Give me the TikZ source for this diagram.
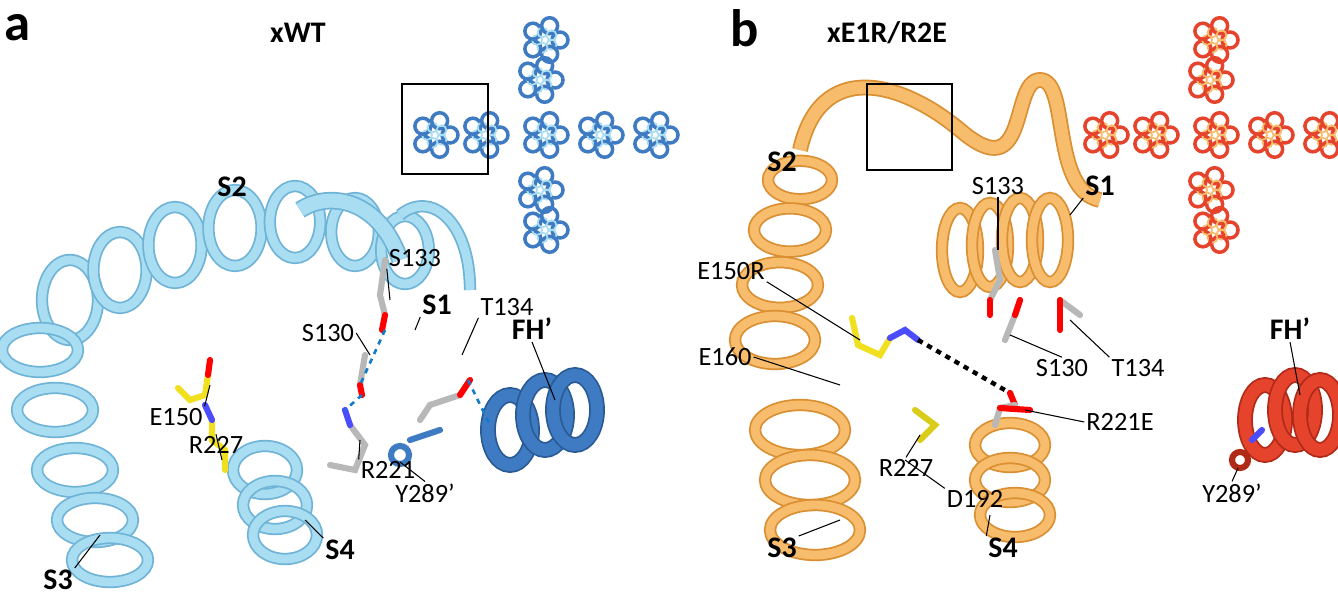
\documentclass[tikz,border=0pt]{standalone}
\usepackage{fontspec}
\setmainfont{Carlito}
\usetikzlibrary{calc}
\begin{document}
\begin{tikzpicture}[x=0.02cm,y=-0.02cm]
\definecolor{lb}{HTML}{A9DDF2}\definecolor{lbd}{HTML}{6FB3D6}
\definecolor{db}{HTML}{3F7BC2}\definecolor{dbd}{HTML}{2A5A95}
\definecolor{lo}{HTML}{F7BC6C}\definecolor{lod}{HTML}{D98F32}
\definecolor{rd}{HTML}{E5432C}\definecolor{rdd}{HTML}{B02A18}
\definecolor{st}{HTML}{B8B8B8}\definecolor{ye}{HTML}{F0E020}
\tikzset{lab/.style={font=\fontsize{15}{17}\selectfont,inner sep=1pt},
 blab/.style={lab,font=\fontsize{17}{19}\selectfont\bfseries},
 lead/.style={draw=black,line width=0.6pt},
 coilA/.style={draw=lbd,line width=7pt},coilA2/.style={draw=lb,line width=5pt},
 stick/.style={line width=3.5pt,line cap=round}}
\useasboundingbox (0,0) rectangle (1338,601);
\fill[white] (0,0) rectangle (1338,601);
% ---------- panel a -------------
\foreach \x/\y/\r in {70/300/40,120/270/38,175/245/38,235/228/38,295/222/36,355/232/34,405/250/34}
 {\draw[coilA] (\x,\y) ellipse [x radius=\r*0.7,y radius=\r];\draw[coilA2] (\x,\y) ellipse [x radius=\r*0.7,y radius=\r];}
\foreach \x/\y in {40/350,55/410,75/470,95/520,110/560}
 {\draw[coilA] (\x,\y) ellipse [x radius=38,y radius=22];\draw[coilA2] (\x,\y) ellipse [x radius=38,y radius=22];}
\foreach \x/\y in {265/470,275/505,285/535}
 {\draw[coilA] (\x,\y) ellipse [x radius=32,y radius=24];\draw[coilA2] (\x,\y) ellipse [x radius=32,y radius=24];}
\draw[coilA,line width=10pt] (300,210) .. controls (330,190) and (380,200) .. (400,260);
\draw[coilA2,line width=8pt] (300,210) .. controls (330,190) and (380,200) .. (400,260);
\draw[draw=lbd,line width=7pt] (400,215) .. controls (430,190) and (470,220) .. (470,290);
\draw[draw=lb,line width=5pt] (400,215) .. controls (430,190) and (470,220) .. (470,290);
\foreach \x/\y in {510/430,545/415,575/410}
 {\draw[draw=dbd,line width=9pt] (\x,\y) ellipse [x radius=22,y radius=35];\draw[draw=db,line width=7pt] (\x,\y) ellipse [x radius=22,y radius=35];}
% sticks a
\draw[stick,ye] (178,388)--(190,400)--(205,395)--(208,375);
\draw[stick,red] (208,375)--(210,360);
\draw[stick,ye] (225,470)--(225,450)--(212,440)--(212,420);
\draw[stick,blue!70] (212,420)--(205,405);
\draw[stick,st] (385,315)--(380,295)--(385,260);
\draw[stick,red] (385,315)--(382,330);
\draw[stick,st] (360,385)--(365,355);\draw[stick,red] (360,385)--(362,395);
\draw[stick,st] (330,465)--(355,470)--(365,445)--(350,425);\draw[stick,blue!70] (350,425)--(345,410);
\draw[stick,st] (420,420)--(430,405)--(460,395);\draw[stick,red] (460,395)--(470,380);
\draw[stick,db] (400,455) circle (9);\draw[stick,db] (410,440)--(440,430);
\draw[dashed,draw=cyan!60!blue,line width=1.5pt] (385,330)--(360,385);
\draw[dashed,draw=cyan!60!blue,line width=1.5pt] (468,380)--(490,425);
\draw[dashed,draw=cyan!60!blue,line width=1.5pt] (362,395)--(345,410);
% ---------- panel b -------------
\foreach \x/\y/\r in {800/180/32,790/230/36,780/285/38,775/340/40}
 {\draw[draw=lod,line width=7pt] (\x,\y) ellipse [x radius=\r,y radius=\r*0.6];\draw[draw=lo,line width=5pt] (\x,\y) ellipse [x radius=\r,y radius=\r*0.6];}
\draw[draw=lod,line width=9pt] (800,150) .. controls (820,60) and (900,80) .. (960,130) .. controls (1030,190) and (1010,80) .. (1040,80) .. controls (1070,80) and (1050,190) .. (1100,200);
\draw[draw=lo,line width=7pt] (800,150) .. controls (820,60) and (900,80) .. (960,130) .. controls (1030,190) and (1010,80) .. (1040,80) .. controls (1070,80) and (1050,190) .. (1100,200);
\foreach \x/\y in {960/250,990/245,1020/240,1050/240}
 {\draw[draw=lod,line width=7pt] (\x,\y) ellipse [x radius=18,y radius=42];\draw[draw=lo,line width=5pt] (\x,\y) ellipse [x radius=18,y radius=42];}
\foreach \x/\y in {800/430,810/480,815/530}
 {\draw[draw=lod,line width=7pt] (\x,\y) ellipse [x radius=45,y radius=25];\draw[draw=lo,line width=5pt] (\x,\y) ellipse [x radius=45,y radius=25];}
\foreach \x/\y in {1010/445,1010/480,1015/515}
 {\draw[draw=lod,line width=7pt] (\x,\y) ellipse [x radius=35,y radius=22];\draw[draw=lo,line width=5pt] (\x,\y) ellipse [x radius=35,y radius=22];}
\foreach \x/\y in {1265/420,1295/410,1320/415}
 {\draw[draw=rdd,line width=9pt] (\x,\y) ellipse [x radius=20,y radius=35];\draw[draw=rd,line width=7pt] (\x,\y) ellipse [x radius=20,y radius=35];}
% sticks b
\draw[stick,ye] (852,318)--(858,345)--(880,355)--(890,338);\draw[stick,blue!70] (890,338)--(905,330)--(918,340);
\draw[dashed,draw=black,line width=2.5pt] (918,340)--(1010,393);
\draw[stick,red] (1010,393)--(1015,405);
\draw[stick,st] (995,425)--(1000,408)--(1015,405);\draw[stick,red] (1000,408)--(1030,410);
\draw[stick,ye!80!olive] (915,410)--(935,425)--(920,440);
\draw[stick,st] (995,250)--(1000,280)--(990,300);\draw[stick,red] (990,300)--(990,315);
\draw[stick,st] (1015,315)--(1005,340);\draw[stick,red] (1015,315)--(1020,300);
\draw[stick,st] (1060,300)--(1080,315);\draw[stick,red] (1060,300)--(1060,330);
\draw[stick,rdd] (1240,460) circle (8);\draw[stick,blue!70] (1252,440)--(1262,430);
% ---------- insets -------------
\foreach \cx/\cy/\ca/\cb in {545/135/db/lb,1215/135/rd/lo}{
 \foreach \dx/\dy in {0/0,-5/-55,-5/55,-60/0,55/0,0/-95,0/95,-110/0,110/0}
  \foreach \a in {0,72,144,216,288}
   {\draw[draw=\ca,line width=2pt] ($(\cx+\dx,\cy+\dy)+(\a:15)$) circle (8);
    \draw[draw=\cb,line width=1pt] ($(\cx+\dx,\cy+\dy)+(\a+36:8)$) circle (5);}}
\draw[black,line width=1.5pt] (402,84) rectangle (488,174);
\draw[black,line width=1.5pt] (867,84) rectangle (952,170);
% ---------- labels -------------
\node[font=\fontsize{30}{32}\selectfont\bfseries] (pa) at (18,28) {a};
\node[font=\fontsize{30}{32}\selectfont\bfseries] (pb) at (745,28) {b};
\node[blab] (ta) at (298,33) {xWT};
\node[blab] (tb) at (887,33) {xE1R/R2E};
\node[blab] (a2) at (232,187) {S2};
\node[blab] (a1) at (437,305) {S1};
\node[blab] (a3) at (58,580) {S3};
\node[blab] (a4) at (340,550) {S4};
\node[blab] (afh) at (532,329) {FH’};
\node[lab] (a133) at (415,258) {S133};
\node[lab] (a134) at (507,307) {T134};
\node[lab] (a130) at (328,333) {S130};
\node[lab] (a150) at (176,417) {E150};
\node[lab] (a227) at (216,445) {R227};
\node[lab] (a221) at (388,470) {R221};
\node[lab] (a289) at (425,493) {Y289’};
\draw[lead] (a133.south west)--(390,300);
\draw[lead] (a134.south west)--(462,355);
\draw[lead] (a130.east)--(370,355);
\draw[lead] (a150.north east)--(210,385);
\draw[lead] (a227.north)--(222,460);
\draw[lead] (a221.north west)--(360,440);
\draw[lead] (a289.north)--(400,462);
\draw[lead] (a3.north east)--(100,535);
\draw[lead] (a4.north west)--(305,520);
\draw[lead] (a1.south west)--(415,330);
\draw[lead] (afh.south)--(555,400);
\node[blab] (b2) at (782,162) {S2};
\node[blab] (b1) at (1100,186) {S1};
\node[blab] (b3) at (782,548) {S3};
\node[blab] (b4) at (1003,548) {S4};
\node[blab] (bfh) at (1290,329) {FH’};
\node[lab] (b133) at (998,186) {S133};
\node[lab] (b150) at (731,271) {E150R};
\node[lab] (b160) at (725,357) {E160};
\node[lab] (b130) at (1062,368) {S130};
\node[lab] (b134) at (1138,368) {T134};
\node[lab] (b221) at (1120,422) {R221E};
\node[lab] (b227) at (906,468) {R227};
\node[lab] (b192) at (975,499) {D192};
\node[lab] (b289) at (1232,493) {Y289’};
\draw[lead] (b133.south)--(998,250);
\draw[lead] (b1.south west)--(1070,215);
\draw[lead] (b150.south east)--(860,340);
\draw[lead] (b160.east)--(840,385);
\draw[lead] (b130.north)--(1010,335);
\draw[lead] (b134.north west)--(1070,320);
\draw[lead] (b221.west)--(1025,410);
\draw[lead] (b227.north)--(920,435);
\draw[lead] (b192.north west)--(905,460);
\draw[lead] (b3.north east)--(840,520);
\draw[lead] (b4.north west)--(990,515);
\draw[lead] (b289.north)--(1238,468);
\draw[lead] (bfh.south)--(1300,395);
\end{tikzpicture}
\end{document}
